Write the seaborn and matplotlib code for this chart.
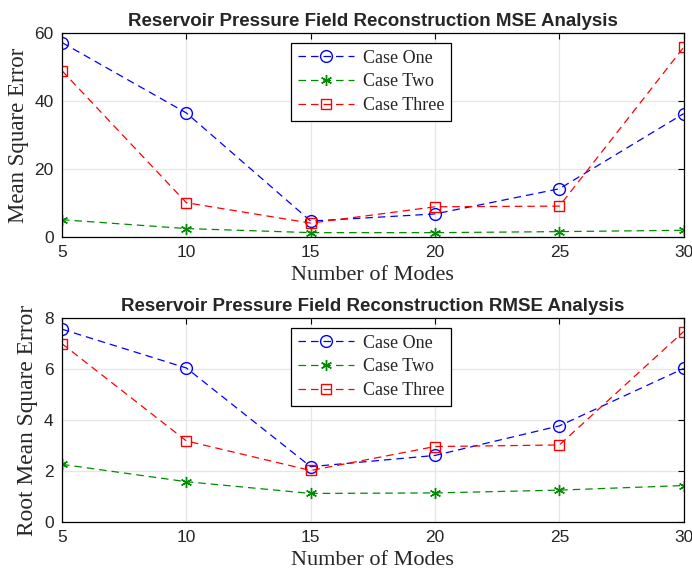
import matplotlib
matplotlib.use("Agg")
import matplotlib.pyplot as plt
import seaborn as sns
import pandas as pd

# Reconstruction error versus number of retained modes
modes = [5, 10, 15, 20, 25, 30]
case_labels = ["Case One", "Case Two", "Case Three"]

mse_case_one = [57.2, 36.5, 4.7, 6.8, 14.2, 36.3]
mse_case_two = [5.1, 2.5, 1.3, 1.3, 1.6, 2.0]
mse_case_three = [48.9, 10.1, 4.1, 8.9, 9.1, 55.8]

rmse_case_one = [7.56, 6.04, 2.17, 2.61, 3.77, 6.02]
rmse_case_two = [2.26, 1.58, 1.12, 1.14, 1.25, 1.43]
rmse_case_three = [6.99, 3.18, 2.02, 2.96, 3.02, 7.47]

x_ticks = [5, 10, 15, 20, 25, 30]
mse_ticks = [0, 20, 40, 60]
rmse_ticks = [0, 2, 4, 6, 8]


def tidy(values_by_case):
    rows = []
    for label, vals in zip(case_labels, values_by_case):
        for m, v in zip(modes, vals):
            rows.append({"modes": m, "value": v, "case": label})
    return pd.DataFrame(rows)


mse_df = tidy([mse_case_one, mse_case_two, mse_case_three])
rmse_df = tidy([rmse_case_one, rmse_case_two, rmse_case_three])

sns.set_theme(style="whitegrid")
plt.rcParams.update({
    "font.family": ["Liberation Serif", "DejaVu Serif"],
    "axes.edgecolor": "black",
    "axes.linewidth": 0.9,
    "grid.color": "#e6e6e6",
    "grid.linewidth": 0.9,
    "xtick.direction": "in",
    "ytick.direction": "in",
})

palette = {"Case One": (0, 0, 1), "Case Two": (0, 0.55, 0), "Case Three": (1, 0, 0)}
markers = {"Case One": "o", "Case Two": (6, 2, 0), "Case Three": "s"}
marker_sizes = {"Case One": 8.5, "Case Two": 8, "Case Three": 7.5}

fig = plt.figure(figsize=(6.92, 5.74), dpi=100)
ax_top = fig.add_axes([0.0896, 0.587, 0.8984, 0.3555])
ax_bot = fig.add_axes([0.0896, 0.0906, 0.8984, 0.3554])

panels = [
    (ax_top, mse_df, "Reservoir Pressure Field Reconstruction MSE Analysis",
     "Mean Square Error", mse_ticks, (0, 60), 16.5),
    (ax_bot, rmse_df, "Reservoir Pressure Field Reconstruction RMSE Analysis",
     "Root Mean Square Error", rmse_ticks, (0, 8), 16.8),
]

for ax, df, title, ylabel, yticks, ylim, ysize in panels:
    for label in case_labels:
        sub = df[df["case"] == label]
        sns.lineplot(
            data=sub, x="modes", y="value", ax=ax, label=label,
            color=palette[label], linestyle=(0, (6, 4)), linewidth=0.9,
            marker=markers[label], markersize=marker_sizes[label],
            markerfacecolor="none" if label != "Case Two" else palette[label],
            markeredgecolor=palette[label], markeredgewidth=1.0,
            errorbar=None,
        )
    ax.set_xlim(5, 30)
    ax.set_ylim(*ylim)
    ax.set_xticks(x_ticks)
    ax.set_yticks(yticks)
    for s in ax.spines.values():
        s.set_visible(True)
        s.set_color("black")
    ax.tick_params(axis="both", which="both", direction="in", length=4,
                   width=0.8, color="black", top=True, right=True,
                   labelsize=12.5, pad=6)
    for t in ax.get_xticklabels() + ax.get_yticklabels():
        t.set_fontfamily("Liberation Sans")
    ax.set_title(title, fontsize=13.5, fontweight="bold",
                 fontfamily="Liberation Sans", pad=5)
    ax.set_xlabel("Number of Modes", fontsize=16, labelpad=4)
    ax.set_ylabel(ylabel, fontsize=ysize, labelpad=4)
    leg = ax.legend(loc="upper center", bbox_to_anchor=(0.497, 0.95),
                    borderaxespad=0, fontsize=13, frameon=True,
                    fancybox=False, edgecolor="black", framealpha=1,
                    handlelength=3.1, borderpad=0.35, labelspacing=0.38,
                    handletextpad=0.5)
    leg.get_frame().set_linewidth(0.9)

fig.savefig("out.png", dpi=100)
